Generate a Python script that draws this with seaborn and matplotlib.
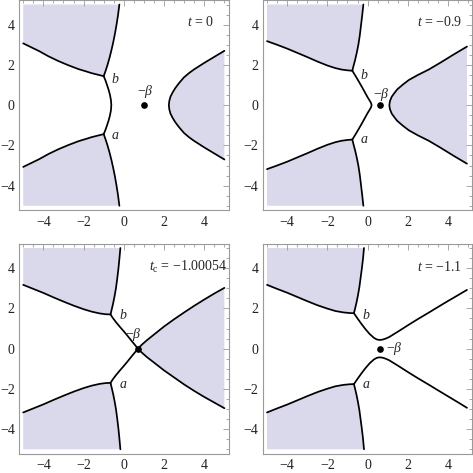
import numpy as np
import matplotlib
matplotlib.use("Agg")
import matplotlib.pyplot as plt
from matplotlib.ticker import MultipleLocator
import seaborn as sns

sns.set_style("white")
plt.rcParams['font.family'] = ['Liberation Serif', 'DejaVu Serif']
plt.rcParams['mathtext.fontset'] = 'custom'
plt.rcParams['mathtext.rm'] = 'Liberation Serif'
plt.rcParams['mathtext.it'] = 'Liberation Serif:italic'
plt.rcParams['axes.unicode_minus'] = True

# ---------------- data ----------------
panel_labels = ['$t$ = 0', '$t$ = \u22120.9', '$t_{\\mathrm{c}}$ = \u22121.00054', '$t$ = \u22121.1']
beta_x = [1.01, 0.64, 0.70, 0.60]

# panel 1 (t = 0)
p1_ul_left_x = [-5.0, -4.6, -4.2, -3.75, -3.25, -2.75, -2.25, -1.9, -1.6, -1.3, -1.0]
p1_ul_left_y = [3.07, 2.875, 2.68, 2.43, 2.19, 1.98, 1.79, 1.685, 1.59, 1.515, 1.44]
p1_ul_up_x = [-1.0, -0.9, -0.81, -0.71, -0.61, -0.52, -0.44, -0.37, -0.29, -0.22]
p1_ul_up_y = [1.44, 1.72, 2.0, 2.35, 2.75, 3.15, 3.55, 3.95, 4.45, 5.0]
p1_ll_left_x = [-5.0, -4.6, -4.2, -3.75, -3.25, -2.75, -2.25, -1.9, -1.6, -1.3, -1.0]
p1_ll_left_y = [-3.07, -2.875, -2.68, -2.43, -2.19, -1.98, -1.79, -1.685, -1.59, -1.515, -1.44]
p1_ll_down_x = [-1.0, -0.9, -0.81, -0.71, -0.61, -0.52, -0.44, -0.37, -0.29, -0.22]
p1_ll_down_y = [-1.44, -1.72, -2.0, -2.35, -2.75, -3.15, -3.55, -3.95, -4.45, -5.0]
p1_mid_x = [-1.0, -0.92, -0.84, -0.76, -0.69, -0.64, -0.62, -0.64, -0.69, -0.76, -0.84, -0.92, -1.0]
p1_mid_y = [1.44, 1.25, 1.02, 0.78, 0.52, 0.26, 0.0, -0.26, -0.52, -0.78, -1.02, -1.25, -1.44]
p1_right_x = [5.0, 4.5, 4.0, 3.5, 3.25, 2.99, 2.75, 2.56, 2.42, 2.32, 2.26, 2.24,
              2.26, 2.32, 2.42, 2.56, 2.75, 2.99, 3.25, 3.5, 4.0, 4.5, 5.0]
p1_right_y = [2.7, 2.4, 2.1, 1.78, 1.6, 1.38, 1.1, 0.85, 0.62, 0.42, 0.2, 0.0,
              -0.2, -0.42, -0.62, -0.85, -1.1, -1.38, -1.6, -1.78, -2.1, -2.4, -2.7]

# panel 2 (t = -0.9)
p2_ul_left_x = [-5.0, -4.5, -4.0, -3.5, -3.0, -2.5, -2.0, -1.6, -1.3, -1.0, -0.76]
p2_ul_left_y = [3.18, 3.0, 2.81, 2.6, 2.39, 2.17, 1.97, 1.84, 1.77, 1.73, 1.71]
p2_ul_up_x = [-0.76, -0.7, -0.62, -0.54, -0.46, -0.39, -0.33, -0.27, -0.21]
p2_ul_up_y = [1.71, 1.95, 2.25, 2.6, 3.0, 3.45, 3.95, 4.45, 5.0]
p2_ll_left_x = [-5.0, -4.5, -4.0, -3.5, -3.0, -2.5, -2.0, -1.6, -1.3, -1.0, -0.76]
p2_ll_left_y = [-3.18, -3.0, -2.81, -2.6, -2.39, -2.17, -1.97, -1.84, -1.77, -1.73, -1.71]
p2_ll_down_x = [-0.76, -0.7, -0.62, -0.54, -0.46, -0.39, -0.33, -0.27, -0.21]
p2_ll_down_y = [-1.71, -1.95, -2.25, -2.6, -3.0, -3.45, -3.95, -4.45, -5.0]
p2_mid_x = [-0.76, -0.6, -0.44, -0.28, -0.13, -0.01, 0.1, 0.17, 0.2,
            0.17, 0.1, -0.01, -0.13, -0.28, -0.44, -0.6, -0.76]
p2_mid_y = [1.71, 1.45, 1.18, 0.9, 0.63, 0.41, 0.23, 0.11, 0.0,
            -0.11, -0.23, -0.41, -0.63, -0.9, -1.18, -1.45, -1.71]
p2_right_x = [4.94, 4.3, 3.6, 3.04, 2.5, 2.05, 1.75, 1.47, 1.33, 1.2, 1.11, 1.08,
              1.11, 1.2, 1.33, 1.47, 1.75, 2.05, 2.5, 3.04, 3.6, 4.3, 4.94]
p2_right_y = [2.91, 2.53, 2.1, 1.77, 1.5, 1.25, 1.02, 0.78, 0.6, 0.42, 0.2, 0.0,
              -0.2, -0.42, -0.6, -0.78, -1.02, -1.25, -1.5, -1.77, -2.1, -2.53, -2.91]

# panel 3 (t_c = -1.00054)
p3_ul_left_x = [-5.0, -4.5, -4.0, -3.5, -3.0, -2.5, -2.0, -1.6, -1.2, -0.9, -0.66]
p3_ul_left_y = [3.17, 2.97, 2.77, 2.55, 2.34, 2.14, 1.96, 1.84, 1.75, 1.71, 1.70]
p3_ul_up_x = [-0.66, -0.6, -0.53, -0.46, -0.39, -0.33, -0.27, -0.22, -0.17]
p3_ul_up_y = [1.70, 1.95, 2.25, 2.6, 3.0, 3.45, 3.95, 4.45, 5.0]
p3_ll_left_x = [-5.0, -4.5, -4.0, -3.5, -3.0, -2.5, -2.0, -1.6, -1.2, -0.9, -0.66]
p3_ll_left_y = [-3.17, -2.97, -2.77, -2.55, -2.34, -2.14, -1.96, -1.84, -1.75, -1.71, -1.70]
p3_ll_down_x = [-0.66, -0.6, -0.53, -0.46, -0.39, -0.33, -0.27, -0.22, -0.17]
p3_ll_down_y = [-1.70, -1.95, -2.25, -2.6, -3.0, -3.45, -3.95, -4.45, -5.0]
p3_mid_x = [-0.66, -0.55, -0.4, -0.2, 0.0, 0.2, 0.4, 0.55, 0.7,
            0.55, 0.4, 0.2, 0.0, -0.2, -0.4, -0.55, -0.66]
p3_mid_y = [1.70, 1.53, 1.33, 1.09, 0.86, 0.62, 0.37, 0.19, 0.0,
            -0.19, -0.37, -0.62, -0.86, -1.09, -1.33, -1.53, -1.70]
p3_upright_x = [0.7, 0.9, 1.15, 1.5, 2.0, 2.5, 3.0, 3.5, 4.0, 4.5, 5.0]
p3_upright_y = [0.0, 0.2, 0.42, 0.7, 1.1, 1.46, 1.8, 2.13, 2.44, 2.74, 3.02]
p3_loright_x = [0.7, 0.9, 1.15, 1.5, 2.0, 2.5, 3.0, 3.5, 4.0, 4.5, 5.0]
p3_loright_y = [0.0, -0.2, -0.42, -0.69, -1.08, -1.43, -1.78, -2.1, -2.4, -2.68, -2.96]

# panel 4 (t = -1.1)
p4_ul_left_x = [-5.0, -4.5, -4.0, -3.5, -3.0, -2.5, -2.0, -1.6, -1.2, -0.9, -0.68]
p4_ul_left_y = [3.17, 2.97, 2.78, 2.57, 2.36, 2.16, 1.99, 1.87, 1.8, 1.77, 1.76]
p4_ul_up_x = [-0.68, -0.62, -0.55, -0.48, -0.41, -0.35, -0.29, -0.23, -0.18]
p4_ul_up_y = [1.76, 2.0, 2.3, 2.65, 3.05, 3.5, 3.95, 4.45, 5.0]
p4_ll_left_x = [-5.0, -4.5, -4.0, -3.5, -3.0, -2.5, -2.0, -1.6, -1.2, -0.9, -0.68]
p4_ll_left_y = [-3.17, -2.97, -2.78, -2.57, -2.36, -2.16, -1.99, -1.87, -1.8, -1.77, -1.76]
p4_ll_down_x = [-0.68, -0.62, -0.55, -0.48, -0.41, -0.35, -0.29, -0.23, -0.18]
p4_ll_down_y = [-1.76, -2.0, -2.3, -2.65, -3.05, -3.5, -3.95, -4.45, -5.0]
p4_up_mid_x = [-0.68, -0.5, -0.3, -0.1, 0.1, 0.31, 0.45, 0.59, 0.75, 0.9, 1.06,
               1.5, 2.0, 2.5, 3.04, 3.5, 4.0, 4.5, 4.94]
p4_up_mid_y = [1.76, 1.5, 1.22, 0.96, 0.73, 0.54, 0.46, 0.43, 0.45, 0.5, 0.57,
               0.84, 1.16, 1.47, 1.79, 2.07, 2.37, 2.66, 2.92]
p4_lo_mid_x = [-0.68, -0.5, -0.3, -0.1, 0.1, 0.31, 0.45, 0.59, 0.75, 0.9, 1.06,
               1.5, 2.0, 2.5, 3.04, 3.5, 4.0, 4.5, 4.94]
p4_lo_mid_y = [-1.76, -1.5, -1.22, -0.96, -0.73, -0.54, -0.46, -0.43, -0.45, -0.5, -0.57,
               -0.84, -1.16, -1.47, -1.79, -2.07, -2.37, -2.67, -2.94]

xticks = [-4, -2, 0, 2, 4]
yticks = [-4, -2, 0, 2, 4]

# ---------------- drawing ----------------
FILL = '#D9D9EB'
FRAME = '#9a9a9a'
LW = 1.25
LIM = 5.21

W, H = 473.0, 473.0
fig = plt.figure(figsize=(4.73, 4.73), dpi=100)
pw, ph = 209.6, 209.7
rects = [(19.0, 0.3), (262.8, 0.3), (19.0, 243.8), (262.8, 243.8)]
axes = []
for (lx, ty) in rects:
    ax = fig.add_axes([lx / W, 1 - (ty + ph) / H, pw / W, ph / H])
    axes.append(ax)


def curve(ax, x, y):
    sns.lineplot(x=x, y=y, sort=False, estimator=None, color='black',
                 lw=LW, ax=ax, legend=False)
    ax.lines[-1].set_solid_joinstyle('round')


def region_ul(ax, lx, ly, ux, uy):
    px = list(lx) + list(ux)[1:] + [-5.0]
    py = list(ly) + list(uy)[1:] + [5.0]
    ax.fill(px, py, color=FILL, lw=0, zorder=0)


def region_ll(ax, lx, ly, dx, dy):
    px = list(lx) + list(dx)[1:] + [-5.0]
    py = list(ly) + list(dy)[1:] + [-5.0]
    ax.fill(px, py, color=FILL, lw=0, zorder=0)


data = [
    (p1_ul_left_x, p1_ul_left_y, p1_ul_up_x, p1_ul_up_y,
     p1_ll_left_x, p1_ll_left_y, p1_ll_down_x, p1_ll_down_y),
    (p2_ul_left_x, p2_ul_left_y, p2_ul_up_x, p2_ul_up_y,
     p2_ll_left_x, p2_ll_left_y, p2_ll_down_x, p2_ll_down_y),
    (p3_ul_left_x, p3_ul_left_y, p3_ul_up_x, p3_ul_up_y,
     p3_ll_left_x, p3_ll_left_y, p3_ll_down_x, p3_ll_down_y),
    (p4_ul_left_x, p4_ul_left_y, p4_ul_up_x, p4_ul_up_y,
     p4_ll_left_x, p4_ll_left_y, p4_ll_down_x, p4_ll_down_y),
]

for i, ax in enumerate(axes):
    ulx, uly, uux, uuy, llx, lly, ldx, ldy = data[i]
    region_ul(ax, ulx, uly, uux, uuy)
    region_ll(ax, llx, lly, ldx, ldy)
    curve(ax, ulx, uly)
    curve(ax, uux, uuy)
    curve(ax, llx, lly)
    curve(ax, ldx, ldy)

# panel-specific curves
ax = axes[0]
ax.fill(p1_right_x, p1_right_y, color=FILL, lw=0, zorder=0)
curve(ax, p1_mid_x, p1_mid_y)
curve(ax, p1_right_x, p1_right_y)

ax = axes[1]
ax.fill(p2_right_x, p2_right_y, color=FILL, lw=0, zorder=0)
curve(ax, p2_mid_x, p2_mid_y)
curve(ax, p2_right_x, p2_right_y)

ax = axes[2]
ax.fill(p3_upright_x + p3_loright_x[::-1], p3_upright_y + p3_loright_y[::-1],
        color=FILL, lw=0, zorder=0)
curve(ax, p3_mid_x, p3_mid_y)
curve(ax, p3_upright_x, p3_upright_y)
curve(ax, p3_loright_x, p3_loright_y)

ax = axes[3]
curve(ax, p4_up_mid_x, p4_up_mid_y)
curve(ax, p4_lo_mid_x, p4_lo_mid_y)

# beta points
for i, ax in enumerate(axes):
    ax.plot([beta_x[i]], [0], 'o', color='black', ms=3.8, zorder=5)

FS = 10
# a / b labels
ab_pos = [(-0.62, 1.3, -1.5), (-0.38, 1.5, -1.72), (-0.24, 1.66, -1.8), (-0.27, 1.66, -1.8)]
for ax, (xa, yb, ya) in zip(axes, ab_pos):
    ax.text(xa, yb, r'$b$', fontsize=FS, ha='left', va='center')
    ax.text(xa, ya, r'$a$', fontsize=FS, ha='left', va='center')

# -beta labels
axes[0].text(1.08, 0.68, r'$-\beta$', fontsize=FS, ha='center', va='center')
axes[1].text(0.69, 0.52, r'$-\beta$', fontsize=FS, ha='center', va='center')
axes[2].text(0.5, 0.7, r'$-\beta$', fontsize=FS, ha='center', va='center')
axes[3].text(0.9, 0.0, r'$-\beta$', fontsize=FS, ha='left', va='center')

# panel labels
lab_pos = [(4.5, 4.15), (4.72, 4.15), (5.12, 4.04), (4.72, 4.04)]
for ax, lab, (lx, ly) in zip(axes, panel_labels, lab_pos):
    ax.text(lx, ly, lab, fontsize=FS, ha='right', va='center')

for ax in axes:
    ax.set_xlim(-LIM, LIM)
    ax.set_ylim(-LIM, LIM)
    ax.set_xticks(xticks)
    ax.set_yticks(yticks)
    ax.xaxis.set_minor_locator(MultipleLocator(0.5))
    ax.yaxis.set_minor_locator(MultipleLocator(0.5))
    ax.tick_params(which='both', direction='in', top=True, right=True,
                   color=FRAME, width=0.6, labelsize=FS, labelcolor='#222222')
    ax.tick_params(which='major', length=4, pad=3)
    ax.tick_params(which='minor', length=2)
    ax.tick_params(axis='x', which='major', pad=4)
    for s in ax.spines.values():
        s.set_color(FRAME)
        s.set_linewidth(0.8)
    ax.set_xlabel('')
    ax.set_ylabel('')

fig.savefig('out.png', dpi=100)
